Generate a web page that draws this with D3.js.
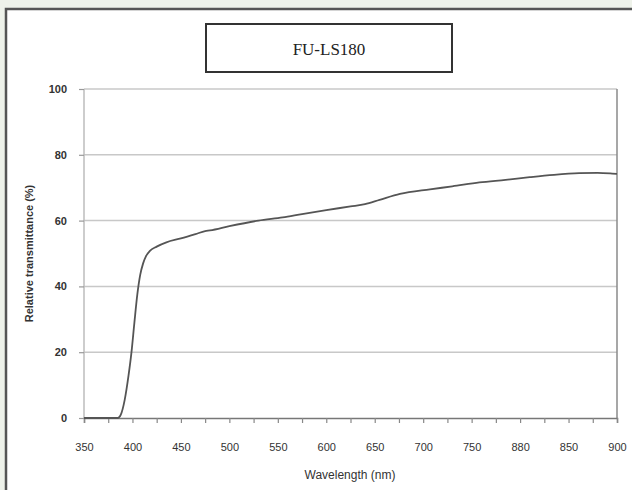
<!DOCTYPE html>
<html><head><meta charset="utf-8">
<script src="https://cdn.jsdelivr.net/npm/d3@7"></script>
<style>html,body{margin:0;padding:0;background:#eef2ea;}svg{display:block;}</style>
</head><body>
<script>
const title = "FU-LS180";
const xLabel = "Wavelength (nm)";
const yLabel = "Relative transmittance (%)";
const xTicks = [350,400,450,500,550,600,650,700,750,800,850,900];
const xTickLabels = ["350","400","450","500","550","600","650","700","750","880","850","900"];
const yTicks = [0,20,40,60,80,100];
const wavelength = [350,370,380,385,388,392,396,399,402,405,408,411,414,418,425,435,450,465,475,480,500,530,555,575,600,625,640,655,676,707,730,758,785,810,835,861,880,895,900];
const transmittance = [0,0,0,0,1,5.5,13,20,29,37.5,43.5,47,49.2,50.8,52.1,53.4,54.6,55.9,56.8,57,58.3,60,61,62,63.2,64.3,65,66.3,68.1,69.5,70.4,71.6,72.4,73.2,73.9,74.4,74.5,74.3,74.2];

const W = 632, H = 490;
const svg = d3.select("body").append("svg").attr("width", W).attr("height", H);

// chart frame
svg.append("rect").attr("x", 6).attr("y", 9).attr("width", W + 10).attr("height", H + 10)
  .attr("fill", "#ffffff").attr("stroke", "#555").attr("stroke-width", 2.5);

const m = {left: 84, right: 617, top: 89, bottom: 418};
const x = d3.scaleLinear().domain([350, 900]).range([m.left, m.right]);
const y = d3.scaleLinear().domain([0, 100]).range([m.bottom, m.top]);

// gridlines
svg.append("g").selectAll("line").data(yTicks.filter(d => d > 0)).join("line")
  .attr("x1", m.left).attr("x2", m.right)
  .attr("y1", d => y(d)).attr("y2", d => y(d))
  .attr("stroke", "#c8c8c8").attr("stroke-width", 1.5);

// plot border sides
svg.append("line").attr("x1", m.left).attr("x2", m.left).attr("y1", m.top).attr("y2", m.bottom)
  .attr("stroke", "#bdbdbd").attr("stroke-width", 1.5);
svg.append("line").attr("x1", m.right).attr("x2", m.right).attr("y1", m.top).attr("y2", m.bottom)
  .attr("stroke", "#8a8a8a").attr("stroke-width", 1.5);

// x axis
const xAxis = d3.axisBottom(x).tickValues(d3.range(350, 901, 25)).tickSize(5)
  .tickFormat(d => { const i = xTicks.indexOf(d); return i >= 0 ? xTickLabels[i] : ""; });
const gx = svg.append("g").attr("transform", `translate(0,${m.bottom})`).call(xAxis);
gx.select(".domain").attr("stroke", "#777").attr("stroke-width", 1.5);
gx.selectAll(".tick line").attr("stroke", "#888").attr("stroke-width", 1.2);
gx.selectAll("text").attr("font-family", "Arial, 'Liberation Sans', sans-serif").attr("font-size", 11)
  .attr("fill", "#333").attr("y", 25).attr("dy", "0.71em");

// y axis
const yAxis = d3.axisLeft(y).tickValues(yTicks).tickSize(5).tickPadding(8);
const gy = svg.append("g").attr("transform", `translate(${m.left},0)`).call(yAxis);
gy.select(".domain").remove();
gy.selectAll(".tick line").attr("stroke", "#999").attr("stroke-width", 1.2);
gy.selectAll("text").attr("font-family", "Arial, 'Liberation Sans', sans-serif").attr("font-size", 11)
  .attr("font-weight", "bold").attr("fill", "#333").attr("dx", "-4");

// curve
const data = wavelength.map((w, i) => [w, transmittance[i]]);
svg.append("path").datum(data)
  .attr("fill", "none").attr("stroke", "#555").attr("stroke-width", 1.8)
  .attr("d", d3.line().x(d => x(d[0])).y(d => y(d[1])).curve(d3.curveMonotoneX));

// title box
svg.append("rect").attr("x", 206).attr("y", 24).attr("width", 246).attr("height", 48)
  .attr("fill", "#fff").attr("stroke", "#333").attr("stroke-width", 2);
svg.append("text").attr("x", 329).attr("y", 55).attr("text-anchor", "middle")
  .attr("font-family", "'Liberation Serif', 'DejaVu Serif', serif").attr("font-size", 17)
  .attr("fill", "#222").text(title);

// axis titles
svg.append("text").attr("x", 350).attr("y", 479).attr("text-anchor", "middle")
  .attr("font-family", "Arial, 'Liberation Sans', sans-serif").attr("font-size", 12)
  .attr("fill", "#333").text(xLabel);
svg.append("text").attr("transform", `translate(33,${(m.top + m.bottom) / 2}) rotate(-90)`)
  .attr("text-anchor", "middle")
  .attr("font-family", "Arial, 'Liberation Sans', sans-serif").attr("font-size", 11)
  .attr("font-weight", "bold").attr("fill", "#333").text(yLabel);
</script>
</body></html>
